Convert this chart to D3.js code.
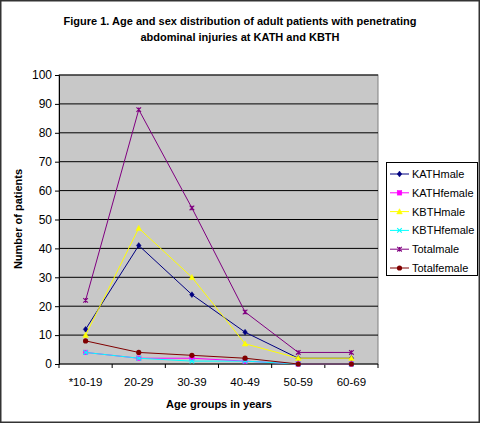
<!DOCTYPE html>
<html><head><meta charset="utf-8">
<script src="https://cdn.jsdelivr.net/npm/d3@7"></script>
<style>
html,body{margin:0;padding:0;background:#fff;}
svg{display:block;font-family:"Liberation Sans",Arial,sans-serif;}
</style></head>
<body>
<svg id="c" width="481" height="424"></svg>
<script>
const categories = ["*10-19","20-29","30-39","40-49","50-59","60-69"];
const seriesNames = ["KATHmale","KATHfemale","KBTHmale","KBTHfemale","Totalmale","Totalfemale"];
const KATHmale    = [12, 41, 24, 11, 2, 2];
const KATHfemale  = [4, 2, 2, 1, 0, 0];
const KBTHmale    = [10, 47, 30, 7, 2, 2];
const KBTHfemale  = [4, 2, 1, 1, 0, 0];
const Totalmale   = [22, 88, 54, 18, 4, 4];
const Totalfemale = [8, 4, 3, 2, 0, 0];
const yTicks = [0,10,20,30,40,50,60,70,80,90,100];

const colors = ["#000080","#FF00FF","#FFFF00","#00FFFF","#800080","#800000"];
const markers = ["diamond","square","triangle","x","star","circle"];
const seriesData = [KATHmale,KATHfemale,KBTHmale,KBTHfemale,Totalmale,Totalfemale];

const svg = d3.select("#c");
const W = 481, H = 424;
const L = 59, R = 378, T = 75, B = 364;
const FS = 11;

// outer border
svg.append("rect").attr("x",0.75).attr("y",0.75).attr("width",W-2.5).attr("height",H-2.5)
  .attr("fill","#fff").attr("stroke","#333").attr("stroke-width",1.5);

const x = d3.scaleBand().domain(categories).range([L,R]).padding(0);
const y = d3.scaleLinear().domain([0,100]).range([B,T]);

// plot area
svg.append("rect").attr("x",L).attr("y",T).attr("width",R-L).attr("height",B-T)
  .attr("fill","#C8C8C8").attr("stroke","#808080").attr("stroke-width",1);

// gridlines
svg.append("g").selectAll("line").data(yTicks.filter(d=>d>0)).join("line")
  .attr("x1",L).attr("x2",R).attr("y1",d=>y(d)).attr("y2",d=>y(d))
  .attr("stroke","#000").attr("stroke-width",1);

// y axis
const yAxis = d3.axisLeft(y).tickValues(yTicks).tickSize(4).tickPadding(3);
const gy = svg.append("g").attr("transform",`translate(${L},0)`).call(yAxis);
gy.select(".domain").attr("stroke","#000");
gy.selectAll(".tick line").attr("stroke","#000");
gy.selectAll("text").attr("font-size",FS+1).attr("fill","#000").attr("font-family","Liberation Sans, Arial, sans-serif");

// x axis
const gx = svg.append("g").attr("transform",`translate(0,${B})`);
gx.append("line").attr("x1",L).attr("x2",R).attr("stroke","#000");
const bounds = categories.map(c=>x(c)).concat([R]);
gx.selectAll("line.t").data(bounds).join("line").attr("class","t")
  .attr("x1",d=>d).attr("x2",d=>d).attr("y1",0).attr("y2",4).attr("stroke","#000");
gx.selectAll("text").data(categories).join("text")
  .attr("x",d=>x(d)+x.bandwidth()/2).attr("y",22)
  .attr("text-anchor","middle").attr("font-size",FS+0.5).attr("fill","#000").text(d=>d);

// axis titles
svg.append("text").attr("x",219).attr("y",408).attr("text-anchor","middle")
  .attr("font-size",FS).attr("font-weight","bold").text("Age groups in years");
svg.append("text").attr("transform","translate(22,219) rotate(-90)").attr("text-anchor","middle")
  .attr("font-size",FS).attr("font-weight","bold").text("Number of patients");

// title
svg.append("text").attr("x",240).attr("y",25).attr("text-anchor","middle")
  .attr("font-size",FS).attr("font-weight","bold").text("Figure 1. Age and sex distribution of adult patients with penetrating");
svg.append("text").attr("x",240).attr("y",41).attr("text-anchor","middle")
  .attr("font-size",FS).attr("font-weight","bold").text("abdominal injuries at KATH and KBTH");

function drawMarker(g, type, cx, cy, color){
  const s = 2.3;
  if(type==="diamond"){
    g.append("path").attr("d",`M${cx},${cy-s-0.6}L${cx+s},${cy}L${cx},${cy+s+0.6}L${cx-s},${cy}Z`).attr("fill",color).attr("stroke",color).attr("stroke-width",0.5);
  } else if(type==="square"){
    g.append("rect").attr("x",cx-s).attr("y",cy-s).attr("width",2*s).attr("height",2*s).attr("fill",color).attr("stroke",color).attr("stroke-width",0.5);
  } else if(type==="triangle"){
    g.append("path").attr("d",`M${cx},${cy-s-0.6}L${cx+s+0.5},${cy+s}L${cx-s-0.5},${cy+s}Z`).attr("fill",color).attr("stroke",color).attr("stroke-width",0.5);
  } else if(type==="x"){
    g.append("path").attr("d",`M${cx-s},${cy-s}L${cx+s},${cy+s}M${cx+s},${cy-s}L${cx-s},${cy+s}`).attr("stroke",color).attr("stroke-width",1.1);
  } else if(type==="star"){
    g.append("path").attr("d",`M${cx-s},${cy-s}L${cx+s},${cy+s}M${cx+s},${cy-s}L${cx-s},${cy+s}M${cx},${cy-s}L${cx},${cy+s}`).attr("stroke",color).attr("stroke-width",1.1);
  } else if(type==="circle"){
    g.append("circle").attr("cx",cx).attr("cy",cy).attr("r",s+0.3).attr("fill",color);
  }
}

const line = d3.line().x((d,i)=>x(categories[i])+x.bandwidth()/2).y(d=>y(d));
seriesData.forEach((vals,si)=>{
  const g = svg.append("g");
  g.append("path").attr("d",line(vals)).attr("fill","none").attr("stroke",colors[si]).attr("stroke-width",1);
  vals.forEach((v,i)=>drawMarker(g, markers[si], x(categories[i])+x.bandwidth()/2, y(v), colors[si]));
});

// legend
const lg = svg.append("g");
lg.append("rect").attr("x",386.5).attr("y",162.5).attr("width",91).attr("height",113)
  .attr("fill","#fff").attr("stroke","#000").attr("stroke-width",1);
seriesNames.forEach((n,i)=>{
  const yy = 174 + i*18.8;
  lg.append("line").attr("x1",390).attr("x2",409).attr("y1",yy).attr("y2",yy).attr("stroke",colors[i]).attr("stroke-width",1);
  drawMarker(lg, markers[i], 399.5, yy, colors[i]);
  lg.append("text").attr("x",412).attr("y",yy+4).attr("font-size",FS).attr("fill","#000").text(n);
});
</script>
</body></html>
